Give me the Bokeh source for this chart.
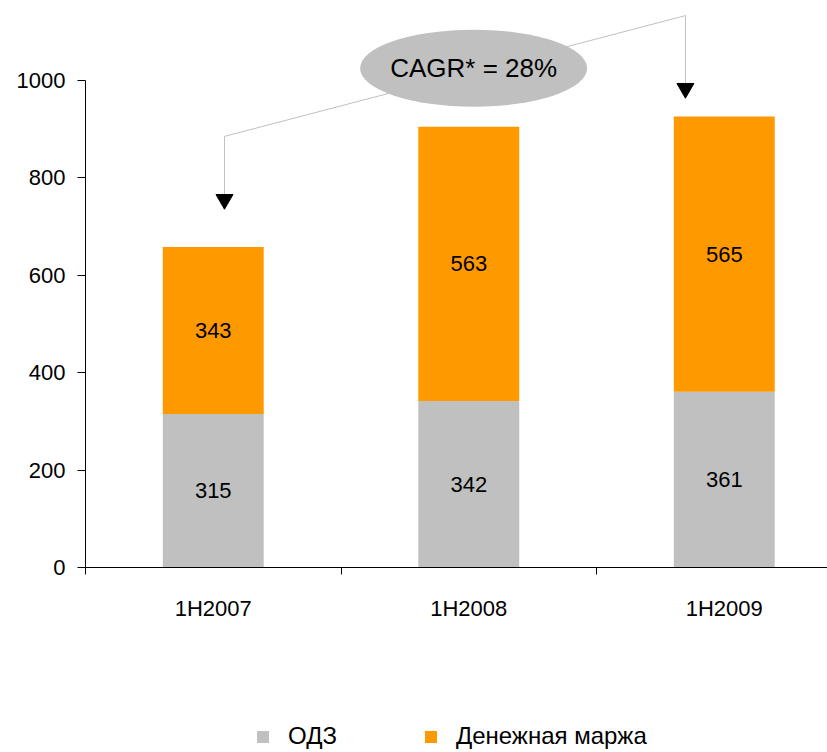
from bokeh.plotting import figure
from bokeh.models import ColumnDataSource, FixedTicker, Range1d, Legend
from bokeh.layouts import column
from bokeh.core.properties import value
from bokeh.embed import file_html
from bokeh.resources import INLINE

categories = ["1H2007", "1H2008", "1H2009"]
odz = [315, 342, 361]
marzha = [343, 563, 565]
series_names = ["ОДЗ", "Денежная маржа"]
y_ticks = [0, 200, 400, 600, 800, 1000]
cagr_label = "CAGR* = 28%"

GREY = "#C0C0C0"
ORANGE = "#FF9900"
FONT = "Liberation Sans"

xs = [i + 0.5 for i in range(len(categories))]
src = ColumnDataSource(dict(x=xs, odz=odz, marzha=marzha))

p = figure(frame_width=742, frame_height=567, output_backend="svg", toolbar_location=None,
           x_range=Range1d(0, 2.904), y_range=Range1d(0, 1164),
           min_border_left=85, min_border_right=0, min_border_top=0,
           min_border_bottom=0)
p.outline_line_color = None
p.grid.visible = False
p.background_fill_color = "white"

renderers = p.vbar_stack(["odz", "marzha"], x="x", width=0.395, source=src,
                         color=[GREY, ORANGE], line_color=None)

# value labels
lab_x = xs + xs
lab_y = [v / 2 for v in odz] + [o + m / 2 for o, m in zip(odz, marzha)]
lab_t = [str(v) for v in odz] + [str(v) for v in marzha]
p.text(lab_x, lab_y, text=lab_t, text_align="center", text_baseline="middle",
       text_font=value(FONT), text_font_size="22px", text_color="black")

# CAGR connector
p.line([0.544, 0.544, 2.348, 2.348], [766, 885, 1133, 994],
       line_color=GREY, line_width=1)
p.scatter([0.544, 2.348], [755.6, 983.6], marker="inverted_triangle", size=17,
          fill_color="black", line_color="black")
p.ellipse(x=[1.519], y=[1025], width=227, height=77, width_units="screen",
          height_units="screen", fill_color=GREY, line_color=None)
p.text([1.519], [1025], text=[cagr_label], text_align="center", text_baseline="middle",
       text_font=value(FONT), text_font_size="26px", text_color="black")

# axes
yax = p.yaxis[0]
yax.ticker = FixedTicker(ticks=y_ticks)
yax.bounds = (0, 1000)
yax.major_tick_out = 8
yax.major_tick_in = 0
yax.minor_tick_line_color = None
yax.major_label_standoff = 12
yax.major_label_text_font = FONT
yax.major_label_text_font_size = "22px"
yax.major_label_text_color = "black"
yax.axis_line_color = "black"
yax.major_tick_line_color = "black"

xax = p.xaxis[0]
xax.ticker = FixedTicker(ticks=xs, minor_ticks=list(range(len(categories) + 1)))
xax.major_label_overrides = {x: c for x, c in zip(xs, categories)}
xax.major_tick_line_color = None
xax.major_tick_out = 0
xax.major_tick_in = 0
xax.minor_tick_out = 7
xax.minor_tick_in = 0
xax.minor_tick_line_color = "black"
xax.major_label_standoff = 21
xax.major_label_text_font = FONT
xax.major_label_text_font_size = "22px"
xax.major_label_text_color = "black"
xax.axis_line_color = "black"

# legend strip below the chart (its bars are hidden, only the legend shows)
lp = figure(frame_width=742, frame_height=130, output_backend="svg", toolbar_location=None,
            x_range=Range1d(0, 2.904), y_range=Range1d(-2, -1),
            x_axis_type=None, y_axis_type=None,
            min_border_left=85, min_border_right=0, min_border_top=0, min_border_bottom=0)
lp.outline_line_color = None
lp.grid.visible = False
lrs = lp.vbar_stack(["odz", "marzha"], x="x", width=0.395, source=src,
                    color=[GREY, ORANGE], line_color=None)
for r in lrs:
    r.visible = False

legend = Legend(items=[(series_names[0], [lrs[0]]), (series_names[1], [lrs[1]])],
                orientation="horizontal", location=(170, 3),
                label_text_font=FONT, label_text_font_size="24px", label_text_color="black",
                glyph_width=15, glyph_height=15, label_standoff=18, spacing=86,
                border_line_color=None, background_fill_alpha=0, padding=0, margin=0,
                inactive_fill_alpha=0)
lp.add_layout(legend, "center")

layout = column(p, lp, spacing=0)
open("out.html", "w").write(file_html(layout, INLINE))
